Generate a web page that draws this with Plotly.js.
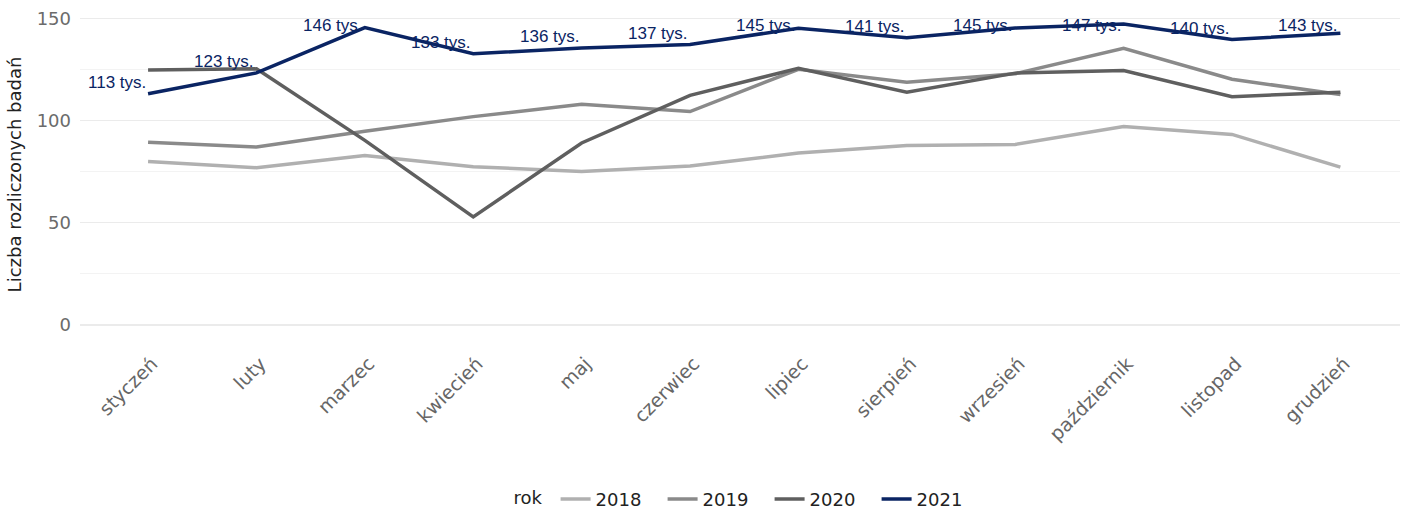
<!DOCTYPE html>
<html>
<head>
<meta charset="utf-8">
<script src="https://cdn.plot.ly/plotly-3.0.1.min.js"></script>
<style>html,body{margin:0;padding:0;background:#fff;}#chart{width:1405px;height:512px;}</style>
</head>
<body>
<div id="chart"></div>
<script>
const months = ["styczeń","luty","marzec","kwiecień","maj","czerwiec","lipiec","sierpień","wrzesień","październik","listopad","grudzień"];
const years = ["2018","2019","2020","2021"];
const v2018 = [80.1, 77.0, 83.0, 77.5, 75.2, 77.8, 84.2, 87.9, 88.4, 97.2, 93.3, 77.3];
const v2019 = [89.5, 87.1, 94.8, 102.0, 108.1, 104.5, 125.2, 118.9, 123.0, 135.5, 120.3, 112.8];
const v2020 = [124.8, 125.4, 90.4, 52.9, 89.1, 112.4, 125.7, 114.0, 123.3, 124.6, 111.8, 114.0];
const v2021 = [113.2, 123.4, 145.6, 132.8, 135.6, 137.3, 145.3, 140.6, 145.4, 147.4, 139.8, 142.8];
const labels2021 = ["113 tys.","123 tys.","146 tys.","133 tys.","136 tys.","137 tys.","145 tys.","141 tys.","145 tys.","147 tys.","140 tys.","143 tys."];
const colors = ["#b0b0b0","#8a8a8a","#5f5f5f","#0a2463"];
const series = [v2018, v2019, v2020, v2021];

const traces = series.map((v, i) => ({
  x: months, y: v, type: "scatter", mode: "lines", name: years[i],
  line: {color: colors[i], width: 3.5},
  hoverinfo: "skip"
}));

// labels placed above each 2021 point, kept inside the panel
const annotations = v2021.map((v, i) => ({
  x: months[i], y: Math.min(v + 5.4, 146.6), xref: "x", yref: "y",
  text: labels2021[i], showarrow: false, xanchor: "right", yanchor: "middle",
  font: {family: "Liberation Sans, Arial, sans-serif", size: 17, color: "#0a2463"}
}));

const layout = {
  width: 1405, height: 512,
  margin: {l: 80, r: 5, t: 9, b: 172, autoexpand: false},
  paper_bgcolor: "#fff", plot_bgcolor: "#fff",
  font: {family: "'DejaVu Sans', sans-serif", color: "#666"},
  showlegend: true,
  annotations: annotations,
  xaxis: {
    type: "category", range: [-0.628, 11.55], automargin: false,
    showgrid: false, zeroline: false, showline: false, ticks: "",
    tickangle: -45, tickfont: {size: 19, color: "#666"},
    ticklabelstandoff: 8, ticklabelshift: 4
  },
  yaxis: {
    range: [-7.35, 154.7], tickvals: [0, 50, 100, 150], ticktext: ["0","50","100","150"], automargin: false,
    showgrid: true, gridcolor: "#ebebeb", gridwidth: 1.2, zeroline: false, showline: false, ticks: "",
    tickfont: {size: 18, color: "#6b6b6b"}, ticklabelstandoff: 8,
    minor: {tickvals: [25, 75, 125], showgrid: true, gridcolor: "#f3f3f3", gridwidth: 1},
    title: {text: "Liczba rozliczonych badań", font: {size: 18, color: "#222"}, standoff: 10}
  },
  legend: {
    orientation: "h", x: 0.506, xanchor: "center", yref: "container", y: 0.025, yanchor: "middle",
    title: {text: "rok ", font: {size: 18, color: "#222"}},
    font: {size: 18, color: "#222"}, itemwidth: 30, entrywidth: 62, traceorder: "normal"
  }
};

Plotly.newPlot("chart", traces, layout, {displayModeBar: false, staticPlot: true});
</script>
</body>
</html>
